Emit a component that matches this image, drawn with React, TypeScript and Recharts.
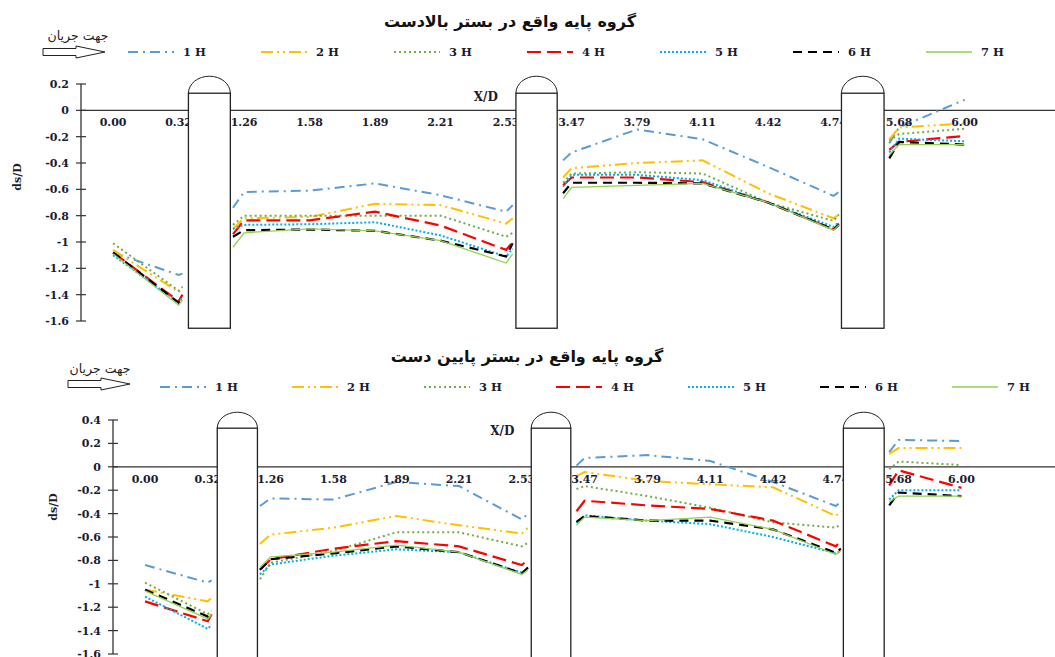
import {
  LineChart,
  Line,
  XAxis,
  YAxis,
  ReferenceLine,
  ReferenceDot,
  ReferenceArea,
} from "recharts";

// positions along the bed (category index), gaps at the piers
const X_POS = [0, 1, 1.06, 1.45, 1.83, 2, 3, 4, 5, 6, 6.1, 6.45, 6.87, 7, 8, 9, 10, 11, 11.08, 11.45, 11.85, 12, 13];
const TICK_POS = [0, 1, 2, 3, 4, 5, 6, 7, 8, 9, 10, 11, 12, 13];
const TICK_LABELS = ["0.00", "0.32", "1.26", "1.58", "1.89", "2.21", "2.53", "3.47", "3.79", "4.11", "4.42", "4.74", "5.68", "6.00"];
const SERIES_NAMES = ["1 H", "2 H", "3 H", "4 H", "5 H", "6 H", "7 H"];
const PIER_SPANS = [
  [1.15, 1.79],
  [6.15, 6.78],
  [11.12, 11.77],
];

// upstream bed
const UP_1H = [-1.08, -1.25, -1.24, null, -0.74, -0.62, -0.61, -0.555, -0.645, -0.77, -0.72, null, -0.38, -0.32, -0.145, -0.22, -0.43, -0.65, -0.62, null, -0.25, -0.13, 0.08];
const UP_2H = [-1.06, -1.38, -1.35, null, -0.9, -0.82, -0.81, -0.71, -0.72, -0.86, -0.82, null, -0.51, -0.44, -0.4, -0.38, -0.63, -0.82, -0.79, null, -0.22, -0.13, -0.1];
const UP_3H = [-1.01, -1.37, -1.34, null, -0.87, -0.8, -0.8, -0.8, -0.8, -0.96, -0.93, null, -0.55, -0.48, -0.47, -0.48, -0.7, -0.84, -0.79, null, -0.23, -0.18, -0.14];
const UP_4H = [-1.08, -1.45, -1.4, null, -0.94, -0.835, -0.835, -0.77, -0.875, -1.06, -1.0, null, -0.57, -0.51, -0.51, -0.545, -0.7, -0.905, -0.86, null, -0.3, -0.24, -0.195];
const UP_5H = [-1.1, -1.46, -1.42, null, -0.9, -0.87, -0.865, -0.85, -0.95, -1.11, -1.05, null, -0.58, -0.49, -0.49, -0.53, -0.7, -0.885, -0.85, null, -0.32, -0.215, -0.235];
const UP_6H = [-1.08, -1.46, -1.42, null, -0.96, -0.91, -0.905, -0.915, -0.99, -1.11, -1.01, null, -0.63, -0.55, -0.55, -0.555, -0.7, -0.905, -0.87, null, -0.365, -0.24, -0.26];
const UP_7H = [-1.09, -1.48, -1.44, null, -1.04, -0.93, -0.9, -0.915, -0.99, -1.16, -1.09, null, -0.67, -0.585, -0.57, -0.555, -0.7, -0.91, -0.87, null, -0.34, -0.26, -0.26];

// downstream bed
const DN_1H = [-0.84, -0.99, -0.97, null, -0.335, -0.27, -0.28, -0.13, -0.165, -0.45, -0.4, null, 0.01, 0.075, 0.1, 0.05, -0.13, -0.335, -0.3, null, 0.125, 0.23, 0.22];
const DN_2H = [-1.05, -1.15, -1.12, null, -0.66, -0.58, -0.52, -0.42, -0.5, -0.57, -0.52, null, -0.08, -0.045, -0.12, -0.15, -0.175, -0.42, -0.38, null, 0.11, 0.16, 0.16];
const DN_3H = [-0.99, -1.26, -1.23, null, -0.96, -0.82, -0.72, -0.56, -0.56, -0.68, -0.65, null, -0.19, -0.165, -0.25, -0.35, -0.475, -0.52, -0.49, null, -0.02, 0.045, 0.015];
const DN_4H = [-1.15, -1.32, -1.26, null, -0.88, -0.79, -0.7, -0.635, -0.68, -0.84, -0.79, null, -0.38, -0.29, -0.33, -0.36, -0.46, -0.68, -0.63, null, -0.16, -0.03, -0.18];
const DN_5H = [-1.11, -1.385, -1.35, null, -0.92, -0.835, -0.76, -0.705, -0.73, -0.905, -0.86, null, -0.48, -0.415, -0.46, -0.49, -0.6, -0.74, -0.72, null, -0.28, -0.2, -0.2];
const DN_6H = [-1.05, -1.28, -1.24, null, -0.88, -0.79, -0.74, -0.68, -0.73, -0.91, -0.86, null, -0.47, -0.42, -0.46, -0.46, -0.535, -0.735, -0.7, null, -0.33, -0.22, -0.25];
const DN_7H = [-1.06, -1.3, -1.26, null, -0.86, -0.77, -0.73, -0.67, -0.73, -0.92, -0.88, null, -0.5, -0.43, -0.46, -0.43, -0.535, -0.75, -0.72, null, -0.3, -0.25, -0.25];

const UP_TICKS = [0.2, 0, -0.2, -0.4, -0.6, -0.8, -1, -1.2, -1.4, -1.6];
const DN_TICKS = [0.4, 0.2, 0, -0.2, -0.4, -0.6, -0.8, -1, -1.2, -1.4, -1.6];

const STYLES = [
  { key: "h1", color: "#5B9BD5", dash: "10 5 2 5", width: 2 },
  { key: "h2", color: "#FFC000", dash: "12 4 2 4 2 4", width: 2 },
  { key: "h3", color: "#70AD47", dash: "2 3", width: 2 },
  { key: "h4", color: "#FF0000", dash: "14 6", width: 2.2 },
  { key: "h5", color: "#00B0F0", dash: "2 2", width: 2 },
  { key: "h6", color: "#000000", dash: "9 6", width: 2.2 },
  { key: "h7", color: "#92D050", dash: undefined, width: 1.3 },
];

const buildRows = (cols: (number | null)[][]) =>
  X_POS.map((x, i) => {
    const row: Record<string, number | null> = { x };
    STYLES.forEach((s, k) => (row[s.key] = cols[k][i]));
    return row;
  });

const upRows = buildRows([UP_1H, UP_2H, UP_3H, UP_4H, UP_5H, UP_6H, UP_7H]);
const dnRows = buildRows([DN_1H, DN_2H, DN_3H, DN_4H, DN_5H, DN_6H, DN_7H]);

const NUM_FONT = "DejaVu Serif";
const INK = "#1b1b2f";

const YTick = (p: any) => {
  const { x, y, payload } = p;
  const v = Number(Number(payload.value).toFixed(1));
  return (
    <g>
      <line x1={x + 7} x2={x + 17} y1={y} y2={y} stroke="#333" strokeWidth={1.2} />
      <text x={x} y={y} dy={4} textAnchor="end" fontFamily={NUM_FONT} fontWeight="bold" fontSize={11} fill={INK}>
        {String(v)}
      </text>
    </g>
  );
};

const Pier = (p: any) => {
  const { x, y, width, height, capH } = p;
  return (
    <g>
      <path
        d={`M ${x} ${y} A ${width / 2} ${capH} 0 0 1 ${x + width} ${y}`}
        fill="#fff"
        stroke="#222"
        strokeWidth={1}
      />
      <rect x={x} y={y} width={width} height={height} fill="#fff" stroke="#222" strokeWidth={1.3} />
    </g>
  );
};

function Panel(props: any) {
  const { top, height, rows, ticks, margin, axisWidth, xDomain, yDomain, pierTop, pierBottom, capH, xdDy } = props;
  return (
    <div style={{ position: "absolute", left: 0, top, width: 1055, height }}>
      <LineChart width={1055} height={height} data={rows} margin={margin}>
        <XAxis type="number" dataKey="x" domain={xDomain} allowDataOverflow hide />
        <YAxis
          type="number"
          domain={yDomain}
          ticks={ticks}
          interval={0}
          width={axisWidth}
          allowDataOverflow
          axisLine={{ stroke: "#333", strokeWidth: 1.3 }}
          tickLine={false}
          tickSize={5}
          tickMargin={7}
          tick={<YTick />}
        />
        <ReferenceLine y={0} stroke="#333" strokeWidth={1.3} ifOverflow="visible" />
        {STYLES.map((s) => (
          <Line
            key={s.key}
            type="linear"
            dataKey={s.key}
            stroke={s.color}
            strokeWidth={s.width}
            strokeDasharray={s.dash}
            dot={false}
            activeDot={false}
            connectNulls={false}
            isAnimationActive={false}
          />
        ))}
        {TICK_POS.map((t, i) => (
          <ReferenceDot
            key={"t" + i}
            x={t}
            y={0}
            r={0}
            ifOverflow="visible"
            shape={(d: any) => (
              <text x={d.cx} y={d.cy + 16} textAnchor="middle" fontFamily={NUM_FONT} fontWeight="bold" fontSize={11} fill={INK}>
                {TICK_LABELS[i]}
              </text>
            )}
          />
        ))}
        <ReferenceDot
          x={5.69}
          y={0}
          r={0}
          ifOverflow="visible"
          shape={(d: any) => (
            <text x={d.cx} y={d.cy + xdDy} textAnchor="middle" fontFamily={NUM_FONT} fontWeight="bold" fontSize={12} fill={INK}>
              X/D
            </text>
          )}
        />
        {PIER_SPANS.map(([a, b], i) => (
          <ReferenceArea
            key={"p" + i}
            x1={a}
            x2={b}
            y1={pierBottom}
            y2={pierTop}
            ifOverflow="visible"
            zIndex={1500}
            shape={(d: any) => <Pier {...d} capH={capH} />}
          />
        ))}
      </LineChart>
    </div>
  );
}

function Header(props: any) {
  const { title, titleX, titleY, noteX, noteY, arrowX, arrowY, legX, legY, legStep, yLabelX, yLabelY } = props;
  const ax = arrowX;
  const ay = arrowY;
  return (
    <g>
      <text x={titleX} y={titleY} textAnchor="middle" direction="rtl" fontFamily="DejaVu Sans" fontWeight="bold" fontSize={16} fill="#111">
        {title}
      </text>
      <text x={noteX} y={noteY} textAnchor="middle" direction="rtl" fontFamily="DejaVu Sans" fontSize={12.5} fill="#222">
        جهت جریان
      </text>
      <polygon
        points={`${ax},${ay - 3.5} ${ax + 33},${ay - 3.5} ${ax + 33},${ay - 6} ${ax + 62},${ay} ${ax + 33},${ay + 6} ${ax + 33},${ay + 3.5} ${ax},${ay + 3.5}`}
        fill="#fff"
        stroke="#222"
        strokeWidth={1}
      />
      {STYLES.map((s, i) => (
        <g key={s.key}>
          <line
            x1={legX + i * legStep}
            x2={legX + i * legStep + 46}
            y1={legY}
            y2={legY}
            stroke={s.color}
            strokeWidth={s.width}
            strokeDasharray={s.dash}
          />
          <text x={legX + i * legStep + 55} y={legY + 4} fontFamily={NUM_FONT} fontWeight="bold" fontSize={11.5} fill={INK}>
            {SERIES_NAMES[i]}
          </text>
        </g>
      ))}
      <text
        x={yLabelX}
        y={yLabelY}
        transform={`rotate(-90 ${yLabelX} ${yLabelY})`}
        textAnchor="middle"
        fontFamily={NUM_FONT}
        fontWeight="bold"
        fontSize={11}
        fill={INK}
      >
        ds/D
      </text>
    </g>
  );
}

export default function App() {
  return (
    <div style={{ position: "absolute", left: 0, top: 0, width: 1055, height: 657, background: "#fff", overflow: "hidden" }}>
      <Panel
        top={0}
        height={340}
        rows={upRows}
        ticks={UP_TICKS}
        margin={{ top: 84, right: 0, bottom: 19, left: 0 }}
        axisWidth={81}
        xDomain={[-0.49, 14.38]}
        yDomain={[-1.6, 0.2]}
        pierTop={0.13}
        pierBottom={-1.655}
        capH={17}
        xdDy={-9}
      />
      <Panel
        top={340}
        height={317}
        rows={dnRows}
        ticks={DN_TICKS}
        margin={{ top: 80, right: 0, bottom: 3, left: 0 }}
        axisWidth={113}
        xDomain={[-0.51, 14.49]}
        yDomain={[-1.6, 0.4]}
        pierTop={0.33}
        pierBottom={-1.75}
        capH={16}
        xdDy={-32}
      />
      <svg width={1055} height={657} style={{ position: "absolute", left: 0, top: 0, pointerEvents: "none" }}>
        <Header
          title="گروه پایه واقع در بستر بالادست"
          titleX={510}
          titleY={27}
          noteX={78}
          noteY={40}
          arrowX={43}
          arrowY={52}
          legX={128}
          legY={52}
          legStep={133}
          yLabelX={21}
          yLabelY={177}
        />
        <Header
          title="گروه پایه واقع در بستر پایین دست"
          titleX={527}
          titleY={362}
          noteX={100}
          noteY={373}
          arrowX={68}
          arrowY={384}
          legX={160}
          legY={387}
          legStep={132}
          yLabelX={57}
          yLabelY={507}
        />
      </svg>
    </div>
  );
}
